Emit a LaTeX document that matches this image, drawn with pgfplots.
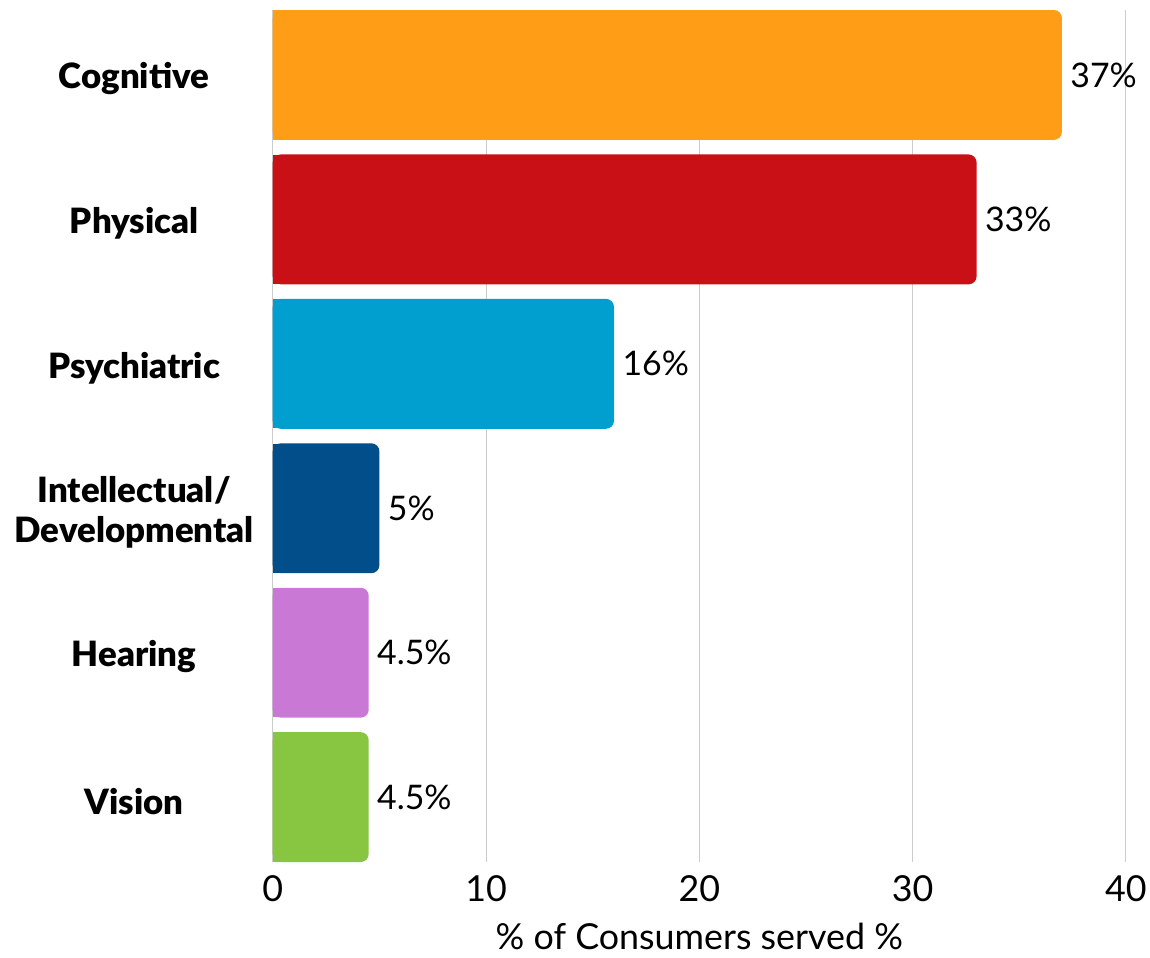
\documentclass[border=0pt]{standalone}
\usepackage{fontspec}
\setmainfont{Lato}
\newfontfamily\heavy{Lato}[UprightFont=* Black]
\usepackage{pgfplots}
\pgfplotsset{compat=1.18}

\definecolor{cogn}{HTML}{FF9E16}
\definecolor{phys}{HTML}{C91016}
\definecolor{psyc}{HTML}{009FD0}
\definecolor{intl}{HTML}{024E8A}
\definecolor{hear}{HTML}{C978D6}
\definecolor{visn}{HTML}{88C540}

% one bar: colour, row, value. Rounded bar + short square stub on top
% of its left end so only the right end looks rounded
\newcommand\catbar[3]{%
  \addplot[xbar, bar width=130bp, bar shift=0pt, fill=#1, draw=none,
    rounded corners=8bp,
    point meta=x,
    nodes near coords={\pgfmathprintnumber{\pgfplotspointmeta}\%},
    nodes near coords style={anchor=west, xshift=5bp, font=\fontsize{34}{40}\selectfont, text=black}]
    coordinates {(#3,#2)};
  \addplot[xbar, bar width=129.4bp, bar shift=0pt, fill=#1, draw=none,
    x filter/.expression={min(x,0.6)}]
    coordinates {(#3,#2)};
}

\begin{document}
\begin{tikzpicture}
\begin{axis}[
    scale only axis,
    width=854bp, height=853bp,
    xmin=0, xmax=40,
    ymin=-0.45, ymax=5.45,
    xtick={0,10,20,30,40},
    ytick={0,1,2,3,4,5},
    yticklabels={Vision, Hearing, Intellectual/\\Developmental, Psychiatric, Physical, Cognitive},
    yticklabel style={font=\fontsize{35}{40}\selectfont\heavy,
        text width=265bp, align=center, inner sep=0pt, xshift=-6bp, yshift=-4bp},
    xticklabel style={font=\fontsize{36}{40}\selectfont, yshift=-10bp},
    /pgf/number format/assume math mode=true,
    xlabel={\% of Consumers served \%},
    xlabel style={font=\fontsize{36}{40}\selectfont, yshift=-14bp},
    major tick length=0pt,
    axis line style={draw=none},
    xmajorgrids,
    grid style={color=black!20, line width=1bp},
    clip=false,
]
\catbar{cogn}{5}{37}
\catbar{phys}{4}{33}
\catbar{psyc}{3}{16}
\catbar{intl}{2}{5}
\catbar{hear}{1}{4.5}
\catbar{visn}{0}{4.5}
\path (rel axis cs:-0.3197,-0.1125) rectangle (rel axis cs:1.0269,1.0117);
\end{axis}
\end{tikzpicture}
\end{document}
